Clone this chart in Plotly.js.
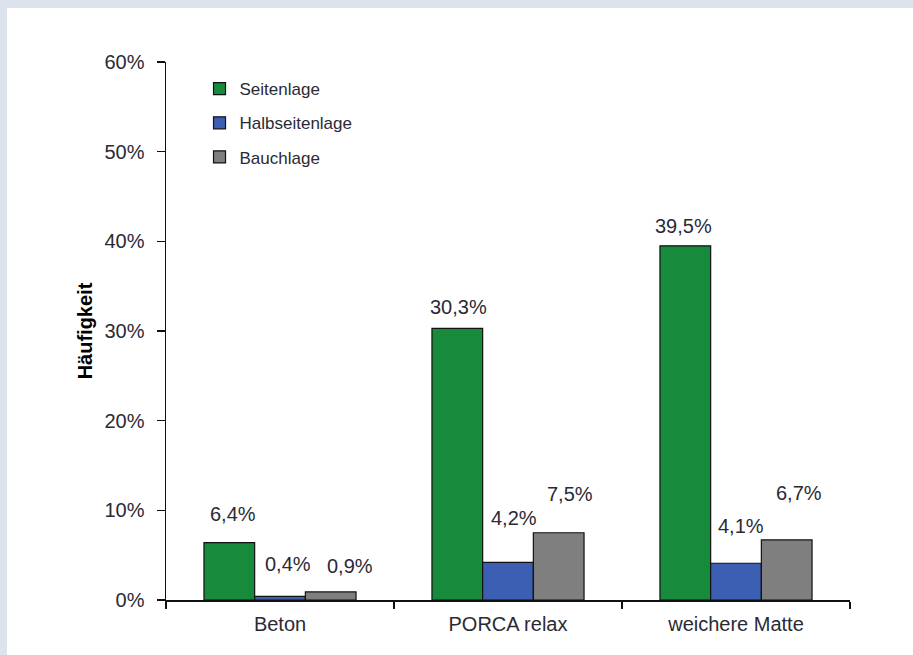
<!DOCTYPE html>
<html>
<head>
<meta charset="utf-8">
<script src="https://cdn.plot.ly/plotly-3.0.1.min.js"></script>
<style>
  html, body { margin: 0; padding: 0; background: #dde3ec; width: 913px; height: 655px; overflow: hidden; }
  #chart { position: absolute; left: 7px; top: 8px; width: 906px; height: 647px; background: #fff; }
</style>
</head>
<body>
<div id="chart"></div>
<script>
// ---- data ----
const categories = ["Beton", "PORCA relax", "weichere Matte"];
const seriesNames = ["Seitenlage", "Halbseitenlage", "Bauchlage"];
const seitenlage = [6.4, 30.3, 39.5];
const halbseitenlage = [0.4, 4.2, 4.1];
const bauchlage = [0.9, 7.5, 6.7];
const yTickValues = [0, 10, 20, 30, 40, 50, 60];
const yTickLabels = ["0%", "10%", "20%", "30%", "40%", "50%", "60%"];

// ---- style ----
const colors = ["#178a3c", "#3c5fb4", "#7f7f80"];
// label offsets (px) relative to bar top/centre, per series per category
const labelYShift = [[29, 21, 20], [32, 44, 37], [26, 39, 47]];
const labelXShift = [[4, 1, -2], [8, 6, 5], [19, 11, 12]];
const bargap = 0.333;
const FONT = "Liberation Sans, Arial, sans-serif";
const TXT = '#2a2a35';

const allSeries = [seitenlage, halbseitenlage, bauchlage];
const fmt = v => v.toFixed(1).replace('.', ',') + '%';

const traces = allSeries.map((vals, k) => ({
  type: 'bar',
  name: seriesNames[k],
  x: categories,
  y: vals,
  legendgroup: 'g' + k,
  marker: { color: colors[k], line: { color: '#111', width: 1.2 } },
  hoverinfo: 'skip'
}));

const barW = (1 - bargap) / 3;
const annotations = [];
allSeries.forEach((vals, k) => {
  vals.forEach((v, i) => {
    annotations.push({
      x: i + (k - 1) * barW, xref: 'x',
      y: v, yref: 'y',
      text: fmt(v),
      showarrow: false,
      xanchor: 'center', yanchor: 'middle',
      xshift: labelXShift[k][i],
      yshift: labelYShift[k][i],
      font: { family: FONT, size: 20, color: TXT }
    });
  });
});

const layout = {
  width: 906, height: 647,
  margin: { l: 159, r: 63, t: 54, b: 55 },
  paper_bgcolor: '#ffffff',
  plot_bgcolor: '#ffffff',
  barmode: 'group',
  bargap: bargap,
  bargroupgap: 0,
  showlegend: true,
  legend: {
    x: 0.049, xanchor: 'left',
    y: 0.983, yanchor: 'top',
    traceorder: 'grouped',
    tracegroupgap: 9,
    font: { family: FONT, size: 17, color: TXT },
    bgcolor: 'rgba(0,0,0,0)',
    itemclick: false, itemdoubleclick: false
  },
  xaxis: {
    type: 'category',
    showline: true, linecolor: '#111', linewidth: 1.5,
    ticks: 'outside', tickson: 'boundaries', ticklen: 7, tickcolor: '#111', tickwidth: 1.5,
    showgrid: false, zeroline: false,
    tickfont: { family: FONT, size: 20, color: TXT },
    ticklabelstandoff: 5,
    fixedrange: true
  },
  yaxis: {
    range: [0, 60],
    tickmode: 'array',
    tickvals: yTickValues,
    ticktext: yTickLabels,
    showline: true, linecolor: '#111', linewidth: 1.5,
    ticks: 'outside', ticklen: 8, tickcolor: '#111', tickwidth: 1.5,
    showgrid: false, zeroline: false,
    tickfont: { family: FONT, size: 20, color: TXT },
    ticklabelstandoff: 8,
    title: { text: 'Häufigkeit', font: { family: FONT, size: 20, color: '#000', weight: 'bold' }, standoff: 6 },
    fixedrange: true
  },
  annotations: annotations
};

Plotly.newPlot('chart', traces, layout, { displayModeBar: false, staticPlot: true });
</script>
</body>
</html>
